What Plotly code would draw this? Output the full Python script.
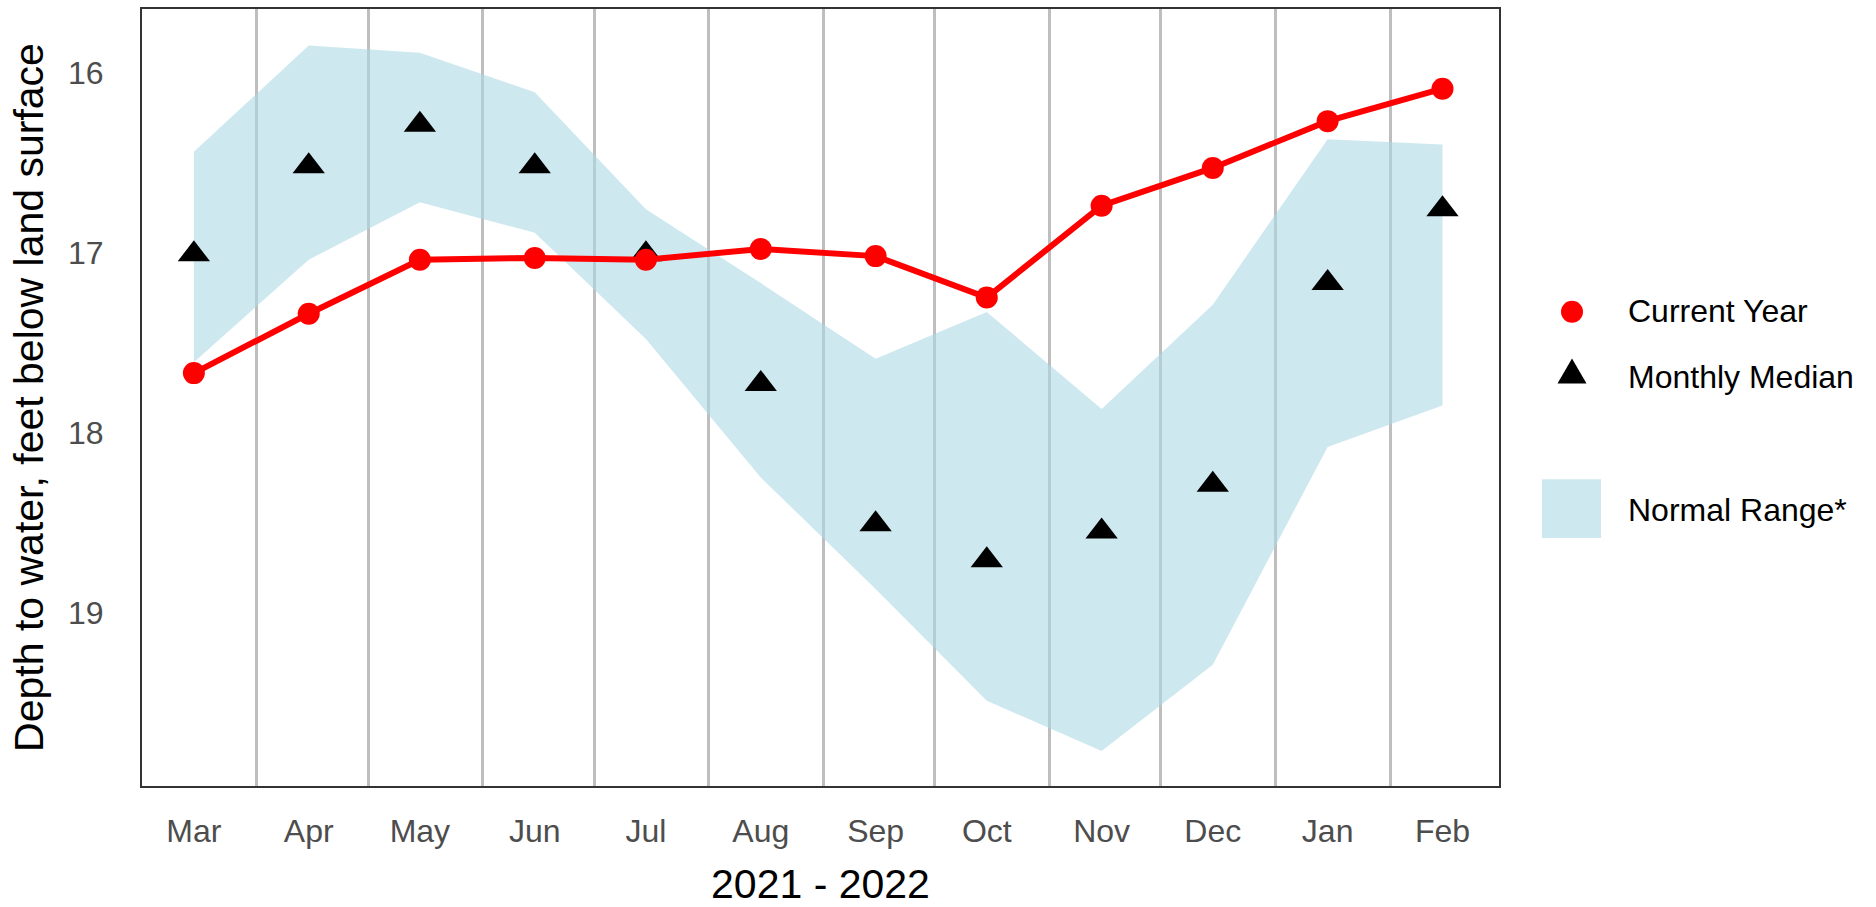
import plotly.graph_objects as go

# Monthly groundwater levels, depth to water in feet below land surface
month_labels = ["Mar", "Apr", "May", "Jun", "Jul", "Aug",
                "Sep", "Oct", "Nov", "Dec", "Jan", "Feb"]
month_dates = ["2021-03-15", "2021-04-15", "2021-05-15", "2021-06-15",
               "2021-07-15", "2021-08-15", "2021-09-15", "2021-10-15",
               "2021-11-15", "2021-12-15", "2022-01-15", "2022-02-15"]
month_starts = ["2021-04-01", "2021-05-01", "2021-06-01", "2021-07-01",
                "2021-08-01", "2021-09-01", "2021-10-01", "2021-11-01",
                "2021-12-01", "2022-01-01", "2022-02-01"]

current_year = [17.67, 17.34, 17.04, 17.03, 17.04, 16.98,
                17.02, 17.25, 16.74, 16.53, 16.27, 16.09]
monthly_median = [17.01, 16.52, 16.29, 16.52, 17.01, 17.73,
                  18.51, 18.71, 18.55, 18.29, 17.17, 16.76]
normal_shallow = [16.44, 15.85, 15.89, 16.11, 16.76, 17.17,
                  17.59, 17.33, 17.87, 17.29, 16.37, 16.40]
normal_deep = [17.61, 17.04, 16.72, 16.89, 17.48, 18.25,
               18.87, 19.49, 19.77, 19.29, 18.08, 17.85]

y_ticks = [16, 17, 18, 19]

FONT = "Liberation Sans, Arial, sans-serif"
BAND = "rgba(173,216,230,0.6)"
RED = "#FF0000"

W, H = 1876, 907
L, R, T, B = 142, 1499, 7, 787  # plot area edges in pixels


def px_x(px):
    return (px - L) / (R - L)


def px_y(py):
    return (B - py) / (B - T)


fig = go.Figure()

# Normal range band
fig.add_trace(go.Scatter(
    x=month_dates, y=normal_deep, mode="lines",
    line=dict(width=0, color=BAND), hoverinfo="skip", showlegend=False))
fig.add_trace(go.Scatter(
    x=month_dates, y=normal_shallow, mode="lines", fill="tonexty",
    fillcolor=BAND, line=dict(width=0, color=BAND),
    name="Normal Range*", showlegend=False))

# Monthly median
fig.add_trace(go.Scatter(
    x=month_dates, y=monthly_median, mode="markers",
    marker=dict(symbol="triangle-up", size=28, color="black", line=dict(width=0)),
    name="Monthly Median", showlegend=False))

# Current year
fig.add_trace(go.Scatter(
    x=month_dates, y=current_year, mode="lines+markers",
    line=dict(color=RED, width=6),
    marker=dict(size=22, color=RED),
    name="Current Year", showlegend=False))

# Legend keys and labels
shapes = [
    dict(type="circle", xref="paper", yref="paper",
         xsizemode="pixel", ysizemode="pixel",
         xanchor=px_x(1572), yanchor=px_y(311),
         x0=-11, x1=11, y0=-11, y1=11,
         fillcolor=RED, line=dict(width=0)),
    dict(type="path", xref="paper", yref="paper",
         xsizemode="pixel", ysizemode="pixel",
         xanchor=px_x(1572), yanchor=px_y(370.5),
         path="M -14.5,-12.5 L 14.5,-12.5 L 0,12.5 Z",
         fillcolor="black", line=dict(width=0)),
    dict(type="rect", xref="paper", yref="paper",
         x0=px_x(1542), x1=px_x(1601), y0=px_y(538), y1=px_y(479),
         fillcolor=BAND, line=dict(width=0)),
]
legend_labels = [("Current Year", 310), ("Monthly Median", 376), ("Normal Range*", 510)]
annotations = [
    dict(text=txt, xref="paper", yref="paper", x=px_x(1626), y=px_y(yy),
         xanchor="left", yanchor="middle", showarrow=False,
         font=dict(family=FONT, size=32, color="black"))
    for txt, yy in legend_labels
]

fig.update_layout(
    width=W, height=H,
    margin=dict(l=L, r=W - R, t=T, b=H - B, pad=0),
    paper_bgcolor="white", plot_bgcolor="white",
    font=dict(family=FONT),
    shapes=shapes, annotations=annotations,
    showlegend=False,
)

fig.update_xaxes(
    type="date",
    range=["2021-03-01", "2022-03-02 06:00"],
    tickmode="array", tickvals=month_dates, ticktext=month_labels,
    tickfont=dict(family=FONT, size=32, color="#4D4D4D"),
    ticks="", ticklabelstandoff=16,
    showgrid=False, zeroline=False,
    minor=dict(tickmode="array", tickvals=month_starts, showgrid=True,
               gridcolor="#BEBEBE", gridwidth=2.5, ticks=""),
    showline=True, mirror=True, linecolor="#333333", linewidth=2,
    title=dict(text="2021 - 2022", font=dict(family=FONT, size=41, color="black"),
               standoff=22),
)

fig.update_yaxes(
    range=[19.964, 15.647],
    tickmode="array", tickvals=y_ticks,
    tickfont=dict(family=FONT, size=32, color="#4D4D4D"),
    ticks="", ticklabelstandoff=30,
    showgrid=False, zeroline=False,
    showline=True, mirror=True, linecolor="#333333", linewidth=2,
    title=dict(text="Depth to water, feet below land surface",
               font=dict(family=FONT, size=41, color="black"), standoff=12),
)

fig.write_html("out.html")
